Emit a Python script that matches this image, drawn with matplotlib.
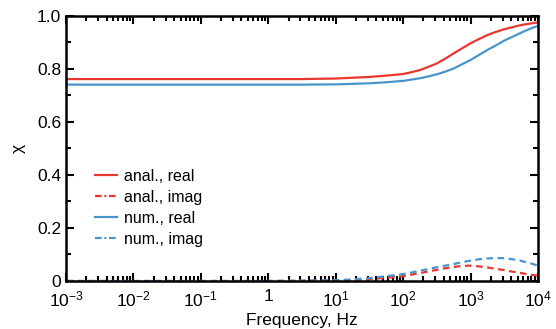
import numpy as np
import matplotlib
matplotlib.use('Agg')
import matplotlib.pyplot as plt
from matplotlib.lines import Line2D
from matplotlib.ticker import LogLocator, FixedLocator, FixedFormatter, MultipleLocator, NullFormatter

plt.rcParams['font.family'] = ['Liberation Sans', 'DejaVu Sans']
plt.rcParams['mathtext.fontset'] = 'custom'
plt.rcParams['mathtext.rm'] = 'Liberation Sans'
plt.rcParams['mathtext.it'] = 'Liberation Sans'

# data (log10 of frequency)
logf = [-3, 0, 0.5, 1, 1.25, 1.5, 1.75, 2, 2.125, 2.25, 2.375, 2.5, 2.625, 2.75, 2.875,
        3, 3.125, 3.25, 3.375, 3.5, 3.625, 3.75, 3.875, 4]
anal_real = [0.762, 0.762, 0.762, 0.764, 0.767, 0.770, 0.775, 0.781, 0.788, 0.796, 0.808, 0.821,
             0.839, 0.859, 0.878, 0.897, 0.913, 0.928, 0.940, 0.950, 0.958, 0.966, 0.971, 0.976]
num_real = [0.741, 0.741, 0.741, 0.742, 0.744, 0.746, 0.750, 0.755, 0.760, 0.765, 0.772, 0.780,
            0.790, 0.802, 0.818, 0.834, 0.853, 0.872, 0.889, 0.907, 0.922, 0.937, 0.951, 0.963]
anal_imag = [0.0, 0.0, 0.001, 0.002, 0.004, 0.007, 0.012, 0.018, 0.024, 0.030, 0.036, 0.042,
             0.048, 0.053, 0.057, 0.058, 0.055, 0.051, 0.046, 0.041, 0.035, 0.030, 0.024, 0.020]
num_imag = [0.0, 0.0, 0.001, 0.003, 0.006, 0.011, 0.018, 0.026, 0.032, 0.039, 0.045, 0.052,
            0.058, 0.064, 0.071, 0.077, 0.082, 0.085, 0.087, 0.086, 0.082, 0.076, 0.068, 0.058]

freq = 10.0**np.array(logf)
red = '#e8382e'
blue = '#4a94cc'

fig = plt.figure(figsize=(5.56, 3.29), dpi=100)
ax = fig.add_axes([0.1187, 0.1459, 0.8489, 0.8055])

dash = (0, (3, 2))
ax.plot(freq, anal_real, color=red, lw=1.6)
ax.plot(freq, anal_imag, color=red, lw=1.6, ls=dash)
ax.plot(freq, num_real, color=blue, lw=1.6)
ax.plot(freq, num_imag, color=blue, lw=1.6, ls=dash)

ax.set_xscale('log')
ax.set_xlim(1e-3, 1e4)
ax.set_ylim(0, 1)

xt = [1e-3, 1e-2, 1e-1, 1, 1e1, 1e2, 1e3, 1e4]
xl = ['$10^{-3}$', '$10^{-2}$', '$10^{-1}$', '1', '$10^{1}$', '$10^{2}$', '$10^{3}$', '$10^{4}$']
ax.xaxis.set_major_locator(FixedLocator(xt))
ax.xaxis.set_major_formatter(FixedFormatter(xl))
ax.xaxis.set_minor_locator(LogLocator(base=10, subs=np.arange(2, 10), numticks=20))
ax.xaxis.set_minor_formatter(NullFormatter())
ax.yaxis.set_major_locator(FixedLocator([0, 0.2, 0.4, 0.6, 0.8, 1.0]))
ax.yaxis.set_major_formatter(FixedFormatter(['0', '0.2', '0.4', '0.6', '0.8', '1.0']))
ax.yaxis.set_minor_locator(MultipleLocator(0.1))

ax.tick_params(which='both', direction='in', top=True, right=True, width=1.5, labelsize=12.5)
ax.tick_params(axis='x', pad=6)
ax.tick_params(which='major', length=6)
ax.tick_params(which='minor', length=3.5)
for s in ax.spines.values():
    s.set_linewidth(1.8)

ax.set_xlabel('Frequency, Hz', fontsize=12.5, labelpad=3)
ax.set_ylabel('χ', fontsize=12.5, labelpad=8)

dd = (0, (3, 1.2, 0.9, 1.2))
handles = [Line2D([], [], color=red, lw=1.6),
           Line2D([], [], color=red, lw=1.6, ls=dd),
           Line2D([], [], color=blue, lw=1.6),
           Line2D([], [], color=blue, lw=1.6, ls=dd)]
labels = ['anal., real', 'anal., imag', 'num., real', 'num., imag']
ax.legend(handles, labels, loc='lower left', bbox_to_anchor=(0.03, 0.075), frameon=False,
          fontsize=11.5, handlelength=1.4, handletextpad=0.45, labelspacing=0.38)

plt.savefig('out.png', dpi=100)
